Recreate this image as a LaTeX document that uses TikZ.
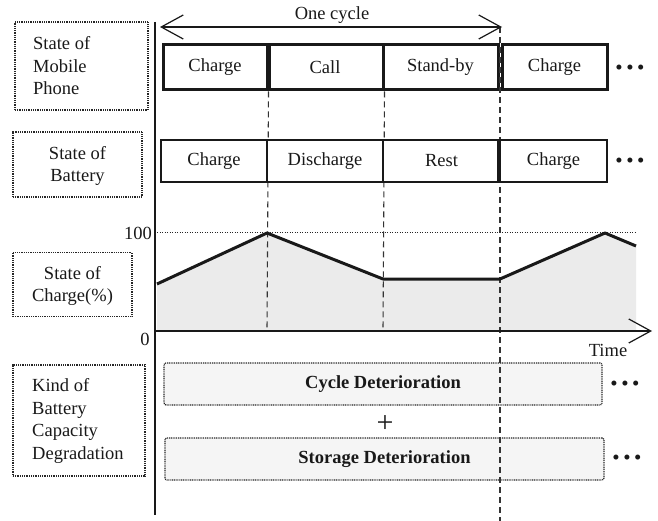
\documentclass[tikz,border=0pt]{standalone}
\usepackage{fontspec}
\setmainfont{Liberation Serif}
\usetikzlibrary{arrows.meta}
\tikzset{openbarb/.tip={Straight Barb[length=22pt,width=24pt,line width=1.2pt]}}
\begin{document}
\begin{tikzpicture}[x=1pt,y=-1pt,
  every node/.style={font=\fontsize{18.5}{22.5}\selectfont, inner sep=0pt, text=black!90},
  labelbox/.style={draw=black!85, line width=1.2pt, dash pattern=on 1pt off 0.8pt},
  phonebox/.style={draw=black!90, line width=3pt, fill=white},
  battbox/.style={draw=black!90, line width=2pt, fill=white},
  guide/.style={line width=1.1pt, dash pattern=on 6pt off 4pt, draw=black!80},
  degbox/.style={draw=black!85, line width=1.2pt, dash pattern=on 1pt off 0.8pt, fill=black!4, rounded corners=2pt},
  dots/.style={font=\fontsize{21}{24}\selectfont}
]
\useasboundingbox (0,0) rectangle (658,521);

% left label boxes
\node[labelbox, minimum width=133, minimum height=88] (lphone) at (81.5,66) {};
\node[anchor=west, align=left] (tphone) at (33,66) {State of\\Mobile\\Phone};
\node[labelbox, minimum width=129, minimum height=65] (lbatt) at (77.5,164.5) {};
\node[align=center] (tbatt) at (77.5,166) {State of\\Battery};
\node[labelbox, minimum width=119, minimum height=64] (lsoc) at (72.5,284.5) {};
\node[align=center] (tsoc) at (72.5,286) {State of\\Charge(\%)};
\node[labelbox, minimum width=132, minimum height=111] (ldeg) at (79,420.5) {};
\node[anchor=west, align=left] (tdeg) at (32,421) {Kind of\\Battery\\Capacity\\Degradation};

% chart area
\fill[black!8] (157,331) -- (157,284) -- (267,233) -- (383,279) -- (500,279) -- (605,233) -- (636,246) -- (636,331) -- cycle;
\draw[line width=1pt, dash pattern=on 1pt off 1.5pt, draw=black!85] (157,233) -- (636,233);

% degradation boxes
\node[degbox, minimum width=438, minimum height=42] (cyc) at (383,384) {\bfseries Cycle Deterioration};
\node[font=\fontsize{30}{30}\selectfont] (plus) at (385,424) {+};
\node[degbox, minimum width=439, minimum height=42] (sto) at (384.5,459) {\bfseries Storage Deterioration};

% guide coordinates
\coordinate (g1b) at (267,331);
\coordinate (g2b) at (383,331);
\coordinate (g3t) at (500,27);
\coordinate (g3b) at (500,521);

% phone boxes
\node[phonebox, minimum width=104, minimum height=45] (p1) at (215,67.5) {Charge};
\node[phonebox, minimum width=116, minimum height=45] (p2) at (325,67.5) {Call};
\node[phonebox, minimum width=115, minimum height=45] (p3) at (440.5,67.5) {Stand-by};
\node[phonebox, minimum width=105, minimum height=45] (p4) at (554.5,67.5) {Charge};
\draw[line width=4.5pt, draw=black!90] (p1.north east) -- (p1.south east);

% guides
\draw[guide] (p1.south east) -- (g1b);
\draw[guide] (p2.south east) -- (g2b);
\draw[guide] (g3t) -- (g3b);

% battery boxes
\node[battbox, minimum width=106, minimum height=42] (b1) at (214,161) {Charge};
\node[battbox, minimum width=116, minimum height=42] (b2) at (325,161) {Discharge};
\node[battbox, minimum width=117, minimum height=42] (b3) at (441.5,161) {Rest};
\node[battbox, minimum width=107, minimum height=42] (b4) at (553.5,161) {Charge};
\draw[line width=4pt, draw=black!90] (b4.north west) -- (b4.south west);

% state of charge curve
\draw[line width=3pt, line join=round, draw=black!90] (157,284) -- (267,233) -- (383,279) -- (500,279) -- (605,233) -- (636,246);

% axes
\draw[line width=2pt, draw=black!90] (155,22) -- (155,515);
\coordinate (t0) at (155,331);
\coordinate (t1) at (652,331);
\draw[line width=1.5pt, draw=black!90, -{openbarb}] (t0) -- (t1);
\node[anchor=east] (l100) at (152,233) {100};
\node (l0) at (145,339) {0};
\node (ltime) at (608,350) {Time};

% one cycle arrow
\coordinate (c0) at (160,27);
\coordinate (c1) at (502,27);
\draw[line width=1.1pt, draw=black!90, {openbarb}-{openbarb}] (c0) -- (c1);
\node (lcyc) at (332,15) {One cycle};

% ellipses
\node[dots] (e1) at (630,70) {•\hspace{3.5pt}•\hspace{3.5pt}•};
\node[dots] (e2) at (630,163) {•\hspace{3.5pt}•\hspace{3.5pt}•};
\node[dots] (e3) at (625,386) {•\hspace{3.5pt}•\hspace{3.5pt}•};
\node[dots] (e4) at (627,460) {•\hspace{3.5pt}•\hspace{3.5pt}•};
\end{tikzpicture}
\end{document}
